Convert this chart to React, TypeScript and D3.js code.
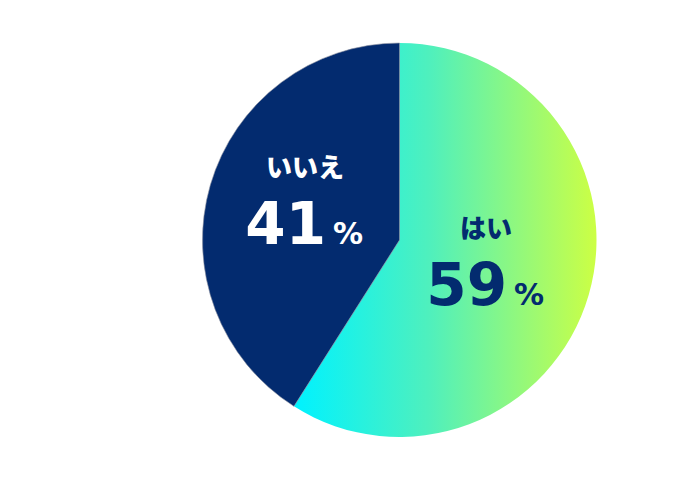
import React from "react";
import * as d3 from "d3";

const labels = ["はい", "いいえ"];
const values = [59, 41];

const W = 700;
const H = 480;
const cx = 399.5;
const cy = 240;
const R = 197;

// label anchor (centre of the caption, caption baseline) relative to the pie centre
const labelPos = [
  [86.5, -2],
  [-94.5, -63],
];

export default function App() {
  const pie = d3.pie<number>().sort(null).value((d) => d);
  const arcs = pie(values);
  const arc = d3.arc<d3.PieArcDatum<number>>().innerRadius(0).outerRadius(R);

  const fills = ["url(#yesGrad)", "#032b6f"];
  const textColors = ["#032b6f", "#ffffff"];

  return (
    <svg
      width={W}
      height={H}
      style={{ position: "absolute", left: 0, top: 0, background: "#fff" }}
    >
      <defs>
        <linearGradient id="yesGrad" gradientUnits="userSpaceOnUse" x1={-104} y1={0} x2={R} y2={0}>
          <stop offset="0%" stopColor="#00f2ff" />
          <stop offset="45%" stopColor="#50f0bc" />
          <stop offset="100%" stopColor="#ccff44" />
        </linearGradient>
      </defs>
      <g transform={`translate(${cx},${cy})`}>
        {arcs.map((a, i) => (
          <path
            key={i}
            d={arc(a) || ""}
            fill={fills[i]}
            stroke={i === 1 ? "#8a8fa0" : "none"}
            strokeWidth={i === 1 ? 0.6 : 0}
          />
        ))}
        {arcs.map((a, i) => {
          const [x, y] = labelPos[i];
          return (
            <g key={"t" + i} transform={`translate(${x},${y})`} fill={textColors[i]}>
              <text
                x={0}
                y={0}
                textAnchor="middle"
                fontFamily="'Noto Sans CJK JP', sans-serif"
                fontWeight={900}
                fontSize={26}
              >
                {labels[i]}
              </text>
              <text
                x={21}
                y={67}
                textAnchor="end"
                fontFamily="'DejaVu Sans', sans-serif"
                fontWeight={700}
                fontSize={58}
              >
                {a.data}
              </text>
              <text
                x={28}
                y={67}
                textAnchor="start"
                fontFamily="'DejaVu Sans', sans-serif"
                fontWeight={700}
                fontSize={30}
              >
                %
              </text>
            </g>
          );
        })}
      </g>
    </svg>
  );
}
